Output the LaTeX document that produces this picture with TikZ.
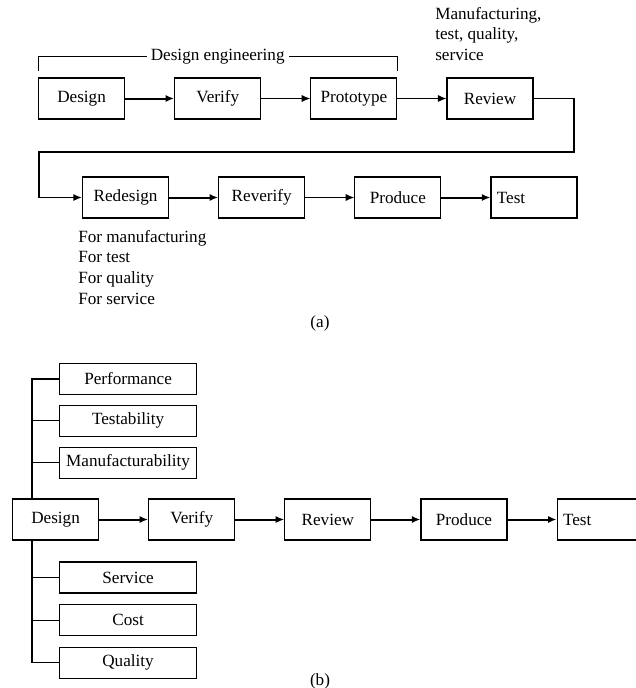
\documentclass[tikz,border=0pt]{standalone}
\usepackage{fontspec}
\setmainfont{Liberation Serif}
\usetikzlibrary{arrows.meta}
\usetikzlibrary{positioning}

\begin{document}
\begin{tikzpicture}[x=0.7pt, y=-0.7pt, node distance=34.3pt,
        every node/.style={font=\fontsize{12}{14.4}\selectfont},
        box/.style={draw, line width=0.8pt, minimum width=60.2pt, minimum height=28.7pt, inner sep=2pt},
        sidebox/.style={draw, line width=0.8pt, minimum width=95.9pt, minimum height=21.7pt, inner sep=1pt},
        >={Latex[length=6pt,width=5pt]},
        thinarr/.style={->, line width=0.8pt},
        thickarr/.style={->, line width=1.4pt}]
        \useasboundingbox (0,0) rectangle (635,688);

        % (a)
        \node[box, anchor=west] (des) at (38,98.5) {Design};
        \node[box, right=of des] (ver) {Verify};
        \node[box, right=of ver] (pro) {Prototype};
        \node[box, right=of pro] (rev) {Review};

        \node[box, anchor=west] (red) at (82,197.5) {Redesign};
        \node[box, right=of red] (rever) {Reverify};
        \node[box, right=of rever] (prod) {Produce};
        \node[box, right=of prod, text width=52pt, align=left] (tst) {Test};

        \draw[line width=0.7pt] ([yshift=4.2pt]des.north west) -- ++(0,-15) -| ([yshift=4.2pt]pro.north east);
        \path ([yshift=14.7pt]des.north west) -- ([yshift=14.7pt]pro.north east)
            node[midway, fill=white, inner sep=3pt] (deng) {Design engineering};

        \node[anchor=north west, inner sep=0, align=left] (mtqs) at (435,7) {Manufacturing,\\ test, quality,\\ service};

        \draw[thickarr] (des) -- (ver);
        \draw[thinarr] (ver) -- (pro);
        \draw[thinarr] (pro) -- (rev);
        \draw[thickarr] (red) -- (rever);
        \draw[thinarr] (rever) -- (prod);
        \draw[thickarr] (prod) -- (tst);

        \coordinate (c1) at (574,152);
        \coordinate (c2) at (39,152);
        \draw[->, line width=1.1pt] (rev.east) -| (c1) -- (c2) |- (red.west);

        \node[anchor=north west, inner sep=0, align=left] (fors) at (78,230) {For manufacturing\\ For test\\ For quality\\ For service};

        \node (capa) at (320,323) {(a)};

        % (b)
        \node[box, anchor=west] (d2) at (12,519.5) {Design};
        \node[box, right=of d2] (v2) {Verify};
        \node[box, right=of v2] (r2) {Review};
        \node[box, right=of r2] (p2) {Produce};
        \node[box, right=of p2, text width=52pt, align=left] (t2) {Test};

        \node[sidebox, anchor=west] (perf) at (59,379) {Performance};
        \node[sidebox, below=6.8pt of perf] (tsty) {Testability};
        \node[sidebox, below=6.8pt of tsty] (manu) {Manufacturability};
        \node[sidebox, anchor=west] (serv) at (59,577.5) {Service};
        \node[sidebox, below=7.3pt of serv] (cost) {Cost};
        \node[sidebox, below=7.3pt of cost] (qual) {Quality};

        \coordinate (sp) at (32,0);
        \draw[line width=0.8pt] (perf.west) -| (sp |- d2.north);
        \draw[line width=0.8pt] (qual.west) -| (sp |- d2.south);
        \foreach \n in {tsty, manu, serv, cost}
            \draw[line width=0.8pt] (\n.west) -- (sp |- \n.west);

        \foreach \a/\b in {d2/v2, v2/r2, r2/p2, p2/t2}
            \draw[thickarr] (\a) -- (\b);

        \node (capb) at (320,681) {(b)};

    \end{tikzpicture}
\end{document}
